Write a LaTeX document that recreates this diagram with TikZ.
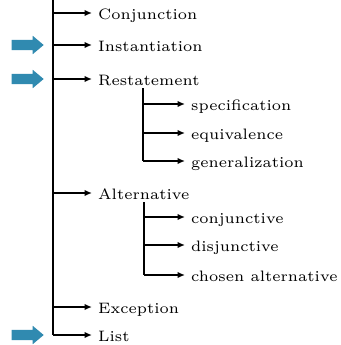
\documentclass[tikz,border=0pt]{standalone}
\usepackage{graphicx}
\usetikzlibrary{arrows.meta,shapes.arrows}
\definecolor{bluearr}{RGB}{48,138,176}
\newcommand\lbl[1]{\scalebox{2.52}{\fontsize{6}{7}\selectfont #1}}
\begin{document}
\begin{tikzpicture}[x=1pt,y=-1pt,
  lab/.style={anchor=west, inner xsep=6pt, inner ysep=0pt, text height=15pt, text depth=2pt},
  conn/.style={line width=1.5pt, -{Latex[length=7.5pt,width=6.5pt]}},
  trunk/.style={line width=1.5pt},
  bluemark/.style={single arrow, fill=bluearr, draw=none, minimum height=32pt,
    inner xsep=0pt, inner ysep=5pt, single arrow head extend=4pt,
    single arrow tip angle=80, anchor=east}]
\useasboundingbox (0,0) rectangle (340,345);
% level-1 labels
\node[lab] (conj) at (92,13)  {\lbl{Conjunction}};
\node[lab] (inst) at (92,45)  {\lbl{Instantiation}};
\node[lab] (rest) at (92,79)  {\lbl{Restatement}};
\node[lab] (alt)  at (92,193) {\lbl{Alternative}};
\node[lab] (exc)  at (92,307) {\lbl{Exception}};
\node[lab] (list) at (92,335) {\lbl{List}};
% level-2 labels
\node[lab] (spec) at (185,104) {\lbl{specification}};
\node[lab] (equi) at (185,133) {\lbl{equivalence}};
\node[lab] (gene) at (185,161) {\lbl{generalization}};
\node[lab] (conjv) at (185,217) {\lbl{conjunctive}};
\node[lab] (disj) at (185,245) {\lbl{disjunctive}};
\node[lab] (chos) at (185,275) {\lbl{chosen alternative}};
% trunks
\coordinate (top) at (53,0);
\coordinate (rs) at (143,88);
\coordinate (as) at (144,202);
\draw[trunk] (top) -- (top |- list.west);
\draw[trunk] (rs) -- (rs |- gene.west);
\draw[trunk] (as) -- (as |- chos.west);
% branches
\foreach \n in {conj,inst,rest,alt,exc,list}
  \draw[conn] (top |- \n.west) -- (\n.west);
\foreach \n in {spec,equi,gene}
  \draw[conn] (rs |- \n.west) -- (\n.west);
\foreach \n in {conjv,disj,chos}
  \draw[conn] (as |- \n.west) -- (\n.west);
% blue markers
\node[bluemark] (m1) at (44,45) {};
\node[bluemark] (m2) at (44,79) {};
\node[bluemark] (m3) at (44,335) {};
\end{tikzpicture}
\end{document}
